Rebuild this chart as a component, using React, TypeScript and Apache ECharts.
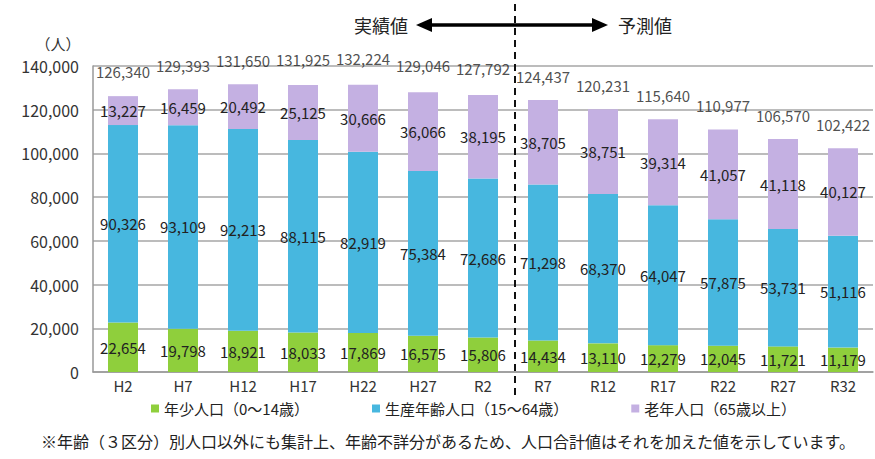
import React, { useEffect, useRef } from "react";
import * as echarts from "echarts";

const categories = ["H2", "H7", "H12", "H17", "H22", "H27", "R2", "R7", "R12", "R17", "R22", "R27", "R32"];
const young = [22654, 19798, 18921, 18033, 17869, 16575, 15806, 14434, 13110, 12279, 12045, 11721, 11179];
const working = [90326, 93109, 92213, 88115, 82919, 75384, 72686, 71298, 68370, 64047, 57875, 53731, 51116];
const old = [13227, 16459, 20492, 25125, 30666, 36066, 38195, 38705, 38751, 39314, 41057, 41118, 40127];
const totals = [126340, 129393, 131650, 131925, 132224, 129046, 127792, 124437, 120231, 115640, 110977, 106570, 102422];
const seriesNames = ["年少人口（0～14歳）", "生産年齢人口（15～64歳）", "老年人口（65歳以上）"];
const footnote = "※年齢（３区分）別人口以外にも集計上、年齢不詳分があるため、人口合計値はそれを加えた値を示しています。";

const FONT = "'Noto Sans CJK JP', 'Noto Sans', sans-serif";
const fmt = (v: number) => v.toLocaleString("en-US");

export default function App() {
  const ref = useRef<HTMLDivElement>(null);
  useEffect(() => {
    document.body.style.margin = "0";
    const chart = echarts.init(ref.current!, null, { renderer: "svg" });
    const segLabel = {
      show: true,
      position: "inside" as const,
      color: "#222",
      fontSize: 15,
      fontFamily: FONT,
      formatter: (p: any) => fmt(p.value),
    };
    chart.setOption({
      animation: false,
      textStyle: { fontFamily: FONT },
      grid: { left: 93, right: 2, top: 66, bottom: 87 },
      legend: {
        bottom: 38,
        left: 146,
        itemWidth: 8,
        itemHeight: 8,
        itemGap: 63,
        icon: "rect",
        textStyle: { fontSize: 15, lineHeight: 15, color: "#222", fontFamily: FONT },
        data: seriesNames,
      },
      xAxis: {
        type: "category",
        data: categories,
        axisLine: { lineStyle: { color: "#999", width: 1.5 } },
        axisTick: { show: false },
        axisLabel: { fontSize: 15, lineHeight: 14, color: "#333", margin: 6, fontFamily: FONT },
      },
      yAxis: {
        type: "value",
        min: 0,
        max: 140000,
        interval: 20000,
        axisLine: { show: true, lineStyle: { color: "#999", width: 1.5 } },
        axisTick: { show: false },
        splitLine: { lineStyle: { color: "#a6a6a6", width: 1.5 } },
        axisLabel: { fontSize: 16, color: "#333", margin: 14, fontFamily: FONT, formatter: (v: number) => fmt(v) },
      },
      series: [
        {
          name: seriesNames[0],
          type: "bar",
          stack: "pop",
          barWidth: "50%",
          data: young,
          itemStyle: { color: "#8fcf3c" },
          label: segLabel,
        },
        {
          name: seriesNames[1],
          type: "bar",
          stack: "pop",
          data: working,
          itemStyle: { color: "#47b7df" },
          label: segLabel,
        },
        {
          name: seriesNames[2],
          type: "bar",
          stack: "pop",
          data: old,
          itemStyle: { color: "#c4b0e2" },
          label: segLabel,
        },
        {
          name: "合計",
          type: "scatter",
          data: totals,
          symbol: "circle",
          symbolSize: 1,
          itemStyle: { color: "rgba(0,0,0,0)" },
          silent: true,
          z: 5,
          label: {
            show: true,
            position: "top",
            distance: 16,
            color: "#222",
            fontSize: 15,
            fontFamily: FONT,
            formatter: (p: any) => fmt(p.value),
          },
        },
      ],
      graphic: [
        {
          type: "line",
          shape: { x1: 515, y1: 4, x2: 515, y2: 398 },
          style: { stroke: "#111", lineWidth: 2, lineDash: [7, 5] },
          z: 10,
        },
        {
          type: "line",
          shape: { x1: 428, y1: 25, x2: 596, y2: 25 },
          style: { stroke: "#000", lineWidth: 3.5 },
        },
        {
          type: "polygon",
          shape: { points: [[416, 25], [432, 18], [432, 32]] },
          style: { fill: "#000" },
        },
        {
          type: "polygon",
          shape: { points: [[608, 25], [592, 18], [592, 32]] },
          style: { fill: "#000" },
        },
        {
          type: "text",
          x: 408,
          y: 25,
          style: { text: "実績値", fontSize: 18, fontFamily: FONT, fill: "#222", textAlign: "right", textVerticalAlign: "middle" },
        },
        {
          type: "text",
          x: 618,
          y: 25,
          style: { text: "予測値", fontSize: 18, fontFamily: FONT, fill: "#222", textAlign: "left", textVerticalAlign: "middle" },
        },
        {
          type: "text",
          x: 58,
          y: 43,
          style: { text: "（人）", fontSize: 15, fontFamily: FONT, fill: "#333", textAlign: "center", textVerticalAlign: "middle" },
        },
        {
          type: "text",
          x: 448,
          y: 441,
          style: { text: footnote, fontSize: 16, fontFamily: FONT, fill: "#222", textAlign: "center", textVerticalAlign: "middle" },
        },
      ],
    });
    return () => chart.dispose();
  }, []);
  return <div ref={ref} style={{ width: 875, height: 459 }} />;
}
